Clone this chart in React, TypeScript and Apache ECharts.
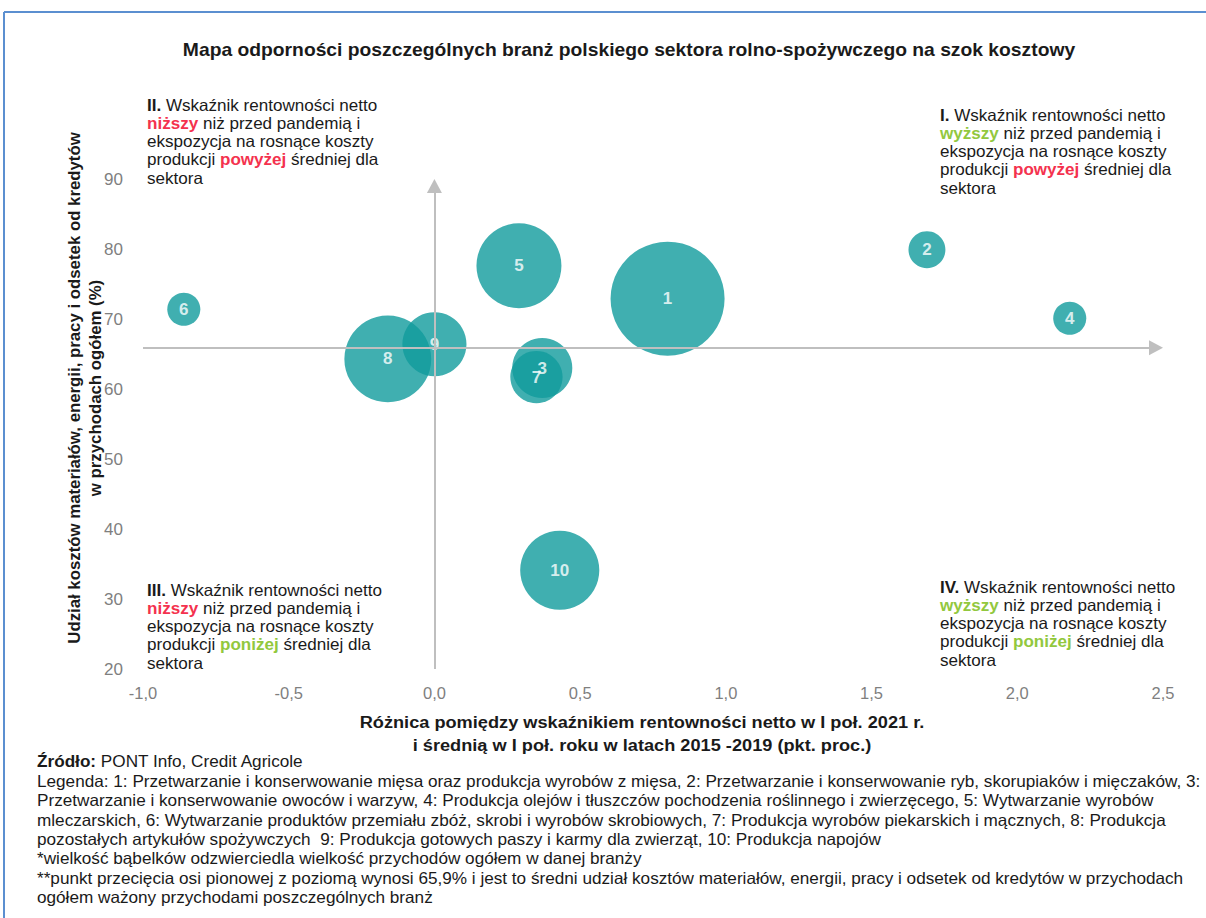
import React, { useEffect, useRef } from "react";
import * as echarts from "echarts";

// ---- data ----
const bubbleLabels = ["1", "2", "3", "4", "5", "6", "7", "8", "9", "10"];
const xValues = [0.8, 1.69, 0.37, 2.18, 0.29, -0.86, 0.35, -0.16, 0.0, 0.43]; // różnica rentowności (pkt. proc.)
const yValues = [72.9, 79.9, 63.0, 70.1, 77.6, 71.4, 61.7, 64.3, 66.4, 34.1]; // udział kosztów (%)
const revenues = [81, 8.5, 22.5, 6.8, 45, 6.8, 17, 47, 25.6, 39]; // wielkość przychodów (skala względna)
const crossY = 65.9;
const xTicks = { min: -1, max: 2.5, interval: 0.5 };
const yTicks = { min: 20, max: 90, interval: 10 };

const FONT = "Liberation Sans, Arial, sans-serif";
const RED = "#f4324e";
const GREEN = "#92c83e";
const TXT = "#1a1a1a";

const titleText =
  "Mapa odporności poszczególnych branż polskiego sektora rolno-spożywczego na szok kosztowy";

const q1 =
  "{b|I.} Wskaźnik rentowności netto\n{g|wyższy} niż przed pandemią i\nekspozycja na rosnące koszty\nprodukcji {r|powyżej} średniej dla\nsektora";
const q2 =
  "{b|II.} Wskaźnik rentowności netto\n{r|niższy} niż przed pandemią i\nekspozycja na rosnące koszty\nprodukcji {r|powyżej} średniej dla\nsektora";
const q3 =
  "{b|III.} Wskaźnik rentowności netto\n{r|niższy} niż przed pandemią i\nekspozycja na rosnące koszty\nprodukcji {g|poniżej} średniej dla\nsektora";
const q4 =
  "{b|IV.} Wskaźnik rentowności netto\n{g|wyższy} niż przed pandemią i\nekspozycja na rosnące koszty\nprodukcji {g|poniżej} średniej dla\nsektora";

const footerLines = [
  "{b|Źródło:} PONT Info, Credit Agricole",
  "Legenda: 1: Przetwarzanie i konserwowanie mięsa oraz produkcja wyrobów z mięsa, 2: Przetwarzanie i konserwowanie ryb, skorupiaków i mięczaków, 3:",
  "Przetwarzanie i konserwowanie owoców i warzyw, 4: Produkcja olejów i tłuszczów pochodzenia roślinnego i zwierzęcego, 5: Wytwarzanie wyrobów",
  "mleczarskich, 6: Wytwarzanie produktów przemiału zbóż, skrobi i wyrobów skrobiowych, 7: Produkcja wyrobów piekarskich i mącznych, 8: Produkcja",
  "pozostałych artykułów spożywczych  9: Produkcja gotowych paszy i karmy dla zwierząt, 10: Produkcja napojów",
  "*wielkość bąbelków odzwierciedla wielkość przychodów ogółem w danej branży",
  "**punkt przecięcia osi pionowej z poziomą wynosi 65,9% i jest to średni udział kosztów materiałów, energii, pracy i odsetek od kredytów w przychodach",
  "ogółem ważony przychodami poszczególnych branż",
];

const xNameText =
  "Różnica pomiędzy wskaźnikiem rentowności netto w I poł. 2021 r.\ni średnią w I poł. roku w latach 2015 -2019 (pkt. proc.)";
const yNameText =
  "Udział kosztów materiałów, energii, pracy i odsetek od kredytów\nw przychodach ogółem (%)";

function quadrant(text: string, x: number, y: number) {
  const base = { fontSize: 16.5, fontFamily: FONT, lineHeight: 18.3 };
  return {
    type: "text",
    x,
    y,
    scaleX: 1.034,
    silent: true,
    style: {
      text,
      ...base,
      fill: TXT,
      align: "left",
      verticalAlign: "top",
      rich: {
        b: { ...base, fontWeight: "bold", fill: TXT },
        r: { ...base, fontWeight: "bold", fill: RED },
        g: { ...base, fontWeight: "bold", fill: GREEN },
      },
    },
  };
}

export default function App() {
  const ref = useRef<HTMLDivElement>(null);
  useEffect(() => {
    document.body.style.margin = "0";
    const chart = echarts.init(ref.current!, null, { renderer: "svg" });
    const data = xValues.map((x, i) => [x, yValues[i], revenues[i], bubbleLabels[i]]);
    const footBase = { fontSize: 16.5, fontFamily: FONT, lineHeight: 19.4 };
    chart.setOption({
      animation: false,
      backgroundColor: "#ffffff",
      grid: { left: 143, right: 43, top: 179, bottom: 249, containLabel: false },
      xAxis: {
        type: "value",
        min: xTicks.min,
        max: xTicks.max,
        interval: xTicks.interval,
        axisLine: { show: false },
        axisTick: { show: false },
        splitLine: { show: false },
        axisLabel: {
          color: "#7f7f7f",
          fontSize: 16.5,
          fontFamily: FONT,
          margin: 15,
          formatter: (v: number) => v.toFixed(1).replace(".", ","),
        },
      },
      yAxis: {
        type: "value",
        min: yTicks.min,
        max: yTicks.max,
        interval: yTicks.interval,
        axisLine: { show: false },
        axisTick: { show: false },
        splitLine: { show: false },
        axisLabel: { color: "#7f7f7f", fontSize: 17, fontFamily: FONT, margin: 20 },
      },
      series: [
        {
          type: "scatter",
          data: [],
          z: 1,
          silent: true,
          markLine: {
            silent: true,
            symbol: ["none", "triangle"],
            symbolSize: [15, 14],
            label: { show: false },
            lineStyle: { color: "#bfbfbf", width: 2, type: "solid" },
            itemStyle: { color: "#bfbfbf" },
            data: [
              [{ coord: [0, yTicks.min] }, { coord: [0, yTicks.max - 1] }],
              [{ coord: [xTicks.min, crossY] }, { coord: [xTicks.max - 0.024, crossY] }],
            ],
          },
        },
        {
          type: "scatter",
          z: 2,
          data,
          symbolSize: (v: any[]) => 12.67 * Math.sqrt(v[2]),
          itemStyle: { color: "#109b9c", opacity: 0.8 },
          label: {
            show: true,
            position: "inside",
            formatter: (p: any) => p.data[3],
            color: "#ffffff",
            fontSize: 17,
            fontWeight: "bold",
            fontFamily: FONT,
          },
        },
      ],
      graphic: [
        {
          type: "line",
          silent: true,
          shape: { x1: 4, y1: 12, x2: 1206, y2: 12 },
          style: { stroke: "#5b8fd0", lineWidth: 2 },
        },
        {
          type: "line",
          silent: true,
          shape: { x1: 4, y1: 12, x2: 4, y2: 918 },
          style: { stroke: "#5b8fd0", lineWidth: 2 },
        },
        {
          type: "text",
          x: 629,
          y: 50,
          scaleX: 1.072,
          silent: true,
          style: {
            text: titleText,
            fontSize: 18,
            fontWeight: "bold",
            fontFamily: FONT,
            fill: TXT,
            align: "center",
            verticalAlign: "middle",
          },
        },
        quadrant(q2, 147, 96),
        quadrant(q1, 940, 106),
        quadrant(q3, 147, 581),
        quadrant(q4, 940, 578),
        {
          type: "text",
          x: 642,
          y: 733.5,
          scaleX: 1.07,
          silent: true,
          style: {
            text: xNameText,
            fontSize: 17,
            fontWeight: "bold",
            fontFamily: FONT,
            lineHeight: 23,
            fill: TXT,
            align: "center",
            verticalAlign: "middle",
          },
        },
        {
          type: "text",
          x: 85,
          y: 388,
          rotation: Math.PI / 2,
          scaleX: 1.05,
          silent: true,
          style: {
            text: yNameText,
            fontSize: 16,
            fontWeight: "bold",
            fontFamily: FONT,
            lineHeight: 21,
            fill: TXT,
            align: "center",
            verticalAlign: "middle",
          },
        },
        {
          type: "text",
          x: 37,
          y: 752.3,
          scaleX: 1.04,
          silent: true,
          style: {
            text: footerLines.join("\n"),
            ...footBase,
            fill: TXT,
            align: "left",
            verticalAlign: "top",
            rich: { b: { ...footBase, fontWeight: "bold", fill: TXT } },
          },
        },
      ],
    });
    return () => chart.dispose();
  }, []);
  return <div ref={ref} style={{ width: 1206, height: 918 }} />;
}
